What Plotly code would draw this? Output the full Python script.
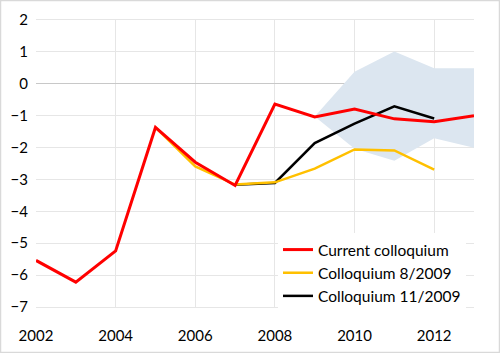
import plotly.graph_objects as go

years = list(range(2002, 2014))
current = [-5.54, -6.22, -5.24, -1.37, -2.46, -3.19, -0.64, -1.04, -0.79, -1.10, -1.19, -1.00]

years_aug = list(range(2005, 2013))
aug2009 = [-1.37, -2.59, -3.16, -3.09, -2.66, -2.06, -2.09, -2.69]

years_nov = list(range(2007, 2013))
nov2009 = [-3.17, -3.11, -1.86, -1.25, -0.71, -1.09]

band_years = [2009, 2010, 2011, 2012, 2013]
band_upper = [-1.03, 0.38, 1.01, 0.49, 0.49]
band_lower = [-1.03, -2.04, -2.41, -1.71, -2.01]

fig = go.Figure()
fig.add_trace(go.Scatter(
    x=band_years + band_years[::-1],
    y=band_upper + band_lower[::-1],
    fill="toself", fillcolor="#dce6f0", line=dict(width=0),
    mode="lines", showlegend=False, hoverinfo="skip"))
fig.add_trace(go.Scatter(x=years_nov, y=nov2009, mode="lines",
                         line=dict(color="#000000", width=2.5),
                         name="Colloquium 11/2009", legendrank=3, legendgroup="c"))
fig.add_trace(go.Scatter(x=years_aug, y=aug2009, mode="lines",
                         line=dict(color="#ffc000", width=2.5),
                         name="Colloquium 8/2009", legendrank=2, legendgroup="b"))
fig.add_trace(go.Scatter(x=years, y=current, mode="lines",
                         line=dict(color="#ff0000", width=3),
                         name="Current colloquium", legendrank=1, legendgroup="a"))

L, R, T, B = 36, 26, 20, 46
W, H = 500, 353
pw, ph = W - L - R, H - T - B

fig.update_layout(
    width=W, height=H,
    margin=dict(l=L, r=R, t=T, b=B),
    paper_bgcolor="white", plot_bgcolor="white",
    font=dict(family="Lato, Carlito, sans-serif", size=15, color="#000000"),
    showlegend=True,
    legend=dict(x=(278 - L) / pw, y=(H - B - 233) / ph, xanchor="left", yanchor="top",
                bgcolor="white", borderwidth=0, traceorder="grouped",
                tracegroupgap=0, font=dict(size=15.5)),
    xaxis=dict(range=[2002, 2013], tickmode="linear", tick0=2002, dtick=2,
               showgrid=True, gridcolor="#e6e6e6", gridwidth=1, automargin=False,
               zeroline=False, showline=True, mirror=True, linecolor="#e6e6e6",
               ticks="", ticklen=0, ticklabelstandoff=15, tickfont=dict(size=15)),
    yaxis=dict(range=[-7, 2], tickmode="linear", tick0=-7, dtick=1,
               showgrid=True, gridcolor="#e6e6e6", gridwidth=1, automargin=False,
               zeroline=True, zerolinecolor="#c8c8c8", zerolinewidth=1,
               showline=False, ticks="", ticklabelstandoff=7, tickfont=dict(size=15)),
    shapes=[dict(type="rect", xref="paper", yref="paper",
                 x0=(0.5 - L) / pw, x1=(W - 0.5 - L) / pw,
                 y0=(H - B - (H - 0.5)) / ph, y1=(H - B - 0.5) / ph,
                 line=dict(color="#d9d9d9", width=1.5), fillcolor="rgba(0,0,0,0)",
                 layer="above")],
)

fig.write_html("out.html")
